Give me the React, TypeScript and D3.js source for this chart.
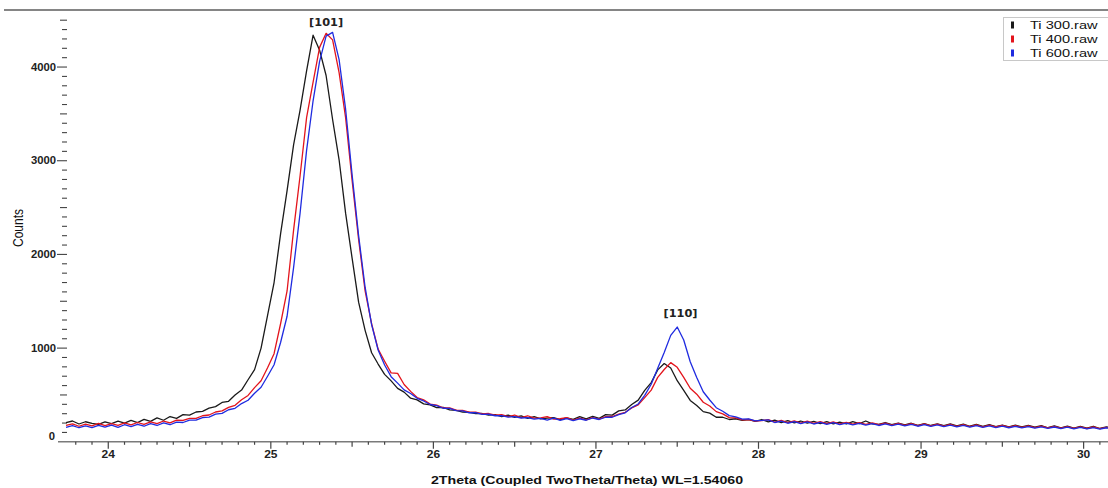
import React from 'react';
import * as d3 from 'd3';

// 2Theta scan: regular instrument step
const twoThetaStart = 23.74;
const twoThetaStep = 0.04;

const ti300 = [
  205, 222, 190, 214, 196, 185, 212, 193, 220, 200,
  228, 205, 240, 218, 255, 230, 270, 250, 290, 285,
  318, 325, 360, 375, 420, 432, 500, 552, 662, 770,
  1000, 1350, 1700, 2220, 2680, 3170, 3540, 3960, 4340, 4180,
  3910, 3440, 3010, 2440, 1960, 1490, 1190, 950, 830, 720,
  650, 570, 530, 465, 448, 405, 395, 365, 368, 340,
  335, 318, 315, 300, 302, 284, 290, 270, 285, 260,
  276, 250, 268, 245, 252, 258, 236, 255, 240, 268,
  245, 272, 250, 290, 285, 330, 340, 398, 445, 548,
  632, 768, 835, 788, 652, 548, 442, 388, 322, 306,
  262, 262, 238, 246, 228, 238, 218, 238, 212, 232,
  205, 226, 202, 222, 200, 218, 194, 215, 192, 210,
  190, 216, 195, 222, 192, 186, 206, 184, 200, 180,
  198, 176, 195, 174, 192, 172, 190, 170, 188, 166,
  185, 164, 182, 162, 179, 160, 177, 158, 174, 156,
  172, 150, 170, 148, 167, 147, 164, 145, 166, 142,
  160, 140,
];

const ti400 = [
  175, 192, 166, 188, 170, 196, 172, 194, 176, 202,
  180, 206, 186, 212, 194, 222, 202, 232, 228, 250,
  250, 278, 286, 318, 330, 368, 390, 448, 495, 578,
  652, 790, 940, 1260, 1610, 2260, 2840, 3460, 3840, 4210,
  4360, 4290, 3940, 3460, 2790, 2160, 1610, 1260, 990, 860,
  735, 730, 612, 538, 472, 448, 402, 392, 362, 362,
  338, 336, 316, 317, 298, 302, 284, 290, 268, 286,
  258, 278, 252, 256, 268, 242, 246, 258, 232, 252,
  234, 258, 242, 268, 270, 296, 315, 362, 395, 472,
  552, 688, 772, 845, 795, 688, 572, 508, 422, 382,
  322, 298, 258, 256, 234, 238, 222, 226, 236, 210,
  228, 204, 224, 200, 220, 196, 216, 194, 212, 190,
  208, 188, 205, 185, 202, 182, 200, 178, 196, 176,
  194, 172, 191, 170, 188, 168, 186, 165, 183, 163,
  180, 160, 178, 158, 175, 156, 172, 153, 170, 151,
  168, 148, 165, 146, 162, 144, 160, 142, 158, 140,
  155, 138,
];

const ti600 = [
  155, 172, 150, 170, 152, 176, 156, 178, 154, 182,
  162, 186, 166, 194, 174, 202, 182, 211, 206, 232,
  232, 257, 264, 295, 304, 342, 358, 408, 444, 518,
  582, 700, 822, 1060, 1340, 1860, 2440, 3110, 3640, 4060,
  4330, 4370, 4080, 3550, 2850, 2200, 1650, 1250, 980, 820,
  695, 626, 554, 516, 464, 436, 398, 386, 358, 356,
  332, 331, 310, 311, 292, 294, 278, 280, 264, 268,
  254, 258, 242, 250, 232, 252, 229, 248, 226, 246,
  230, 254, 238, 262, 262, 291, 309, 366, 404, 496,
  614, 786, 954, 1136, 1225, 1086, 854, 686, 534, 446,
  364, 326, 279, 266, 242, 244, 224, 228, 234, 206,
  220, 198, 216, 194, 212, 190, 208, 186, 204, 183,
  200, 180, 197, 177, 194, 174, 191, 172, 188, 169,
  186, 166, 183, 164, 180, 161, 178, 159, 175, 157,
  172, 154, 170, 152, 168, 150, 165, 148, 163, 146,
  160, 143, 158, 141, 156, 139, 154, 137, 152, 136,
  150, 134,
];

const seriesNames = ['Ti 300.raw', 'Ti 400.raw', 'Ti 600.raw'];
const seriesData = [ti300, ti400, ti600];
const seriesColors = ['#1a1a1a', '#e3141c', '#1f2be0'];

const xTickLabels = [24, 25, 26, 27, 28, 29, 30];
const yTickLabels = [0, 1000, 2000, 3000, 4000];

const peakLabels = ['[101]', '[110]'];
const peakTheta = [25.34, 27.52];
const peakCounts = [4443, 1337];

const W = 1108;
const H = 488;
const FONT = '"Liberation Sans", Arial, sans-serif';

function SText(props: any) {
  const { x, y, sx = 1, rot = 0, anchor = 'start', children, ...rest } = props;
  const t = `translate(${x},${y}) scale(${sx},1)` + (rot ? ` rotate(${rot})` : '');
  return (
    <text transform={t} textAnchor={anchor} {...rest}>
      {children}
    </text>
  );
}

export default function App() {
  const x = d3.scaleLinear().domain([23.74, 30.15]).range([66, 1108]);
  const y = d3.scaleLinear().domain([0, 4500]).range([441.8, 20.2]);

  const line = d3
    .line<number>()
    .x((_, i) => x(twoThetaStart + i * twoThetaStep))
    .y((d) => y(d));

  const xMinor = d3.range(238, 302).map((v) => v / 10);
  const yMinor = d3.range(1, 46).map((v) => v * 100);

  return (
    <svg
      width={W}
      height={H}
      style={{ position: 'absolute', left: 0, top: 0, background: '#fff' }}
      fontFamily={FONT}
    >
      <rect x={0} y={0} width={W} height={H} fill="#fff" />
      {/* top separator */}
      <line x1={4} x2={W} y1={10} y2={10} stroke="#858585" strokeWidth={2} />

      <defs>
        <clipPath id="plotClip">
          <rect x={64} y={12} width={W - 64} height={431} />
        </clipPath>
      </defs>

      {/* x axis */}
      <line x1={58} x2={W} y1={y(0)} y2={y(0)} stroke="#7a7a7a" strokeWidth={1.4} />
      {xMinor.map((v) => {
        const k = Math.round(v * 10);
        const len = k % 10 === 0 ? 7 : k % 5 === 0 ? 5 : 3;
        return (
          <line
            key={'xt' + k}
            x1={x(v)}
            x2={x(v)}
            y1={y(0)}
            y2={y(0) + len}
            stroke="#444"
            strokeWidth={1.2}
          />
        );
      })}
      {xTickLabels.map((v) => (
        <SText
          key={'xl' + v}
          x={x(v)}
          y={457.5}
          sx={1.2}
          anchor="middle"
          fontSize={10}
          fontWeight="bold"
          fill="#222"
        >
          {v}
        </SText>
      ))}

      {/* y ticks */}
      {yMinor.map((v) => {
        const major = v % 1000 === 0;
        const mid = v % 500 === 0;
        return (
          <line
            key={'yt' + v}
            x1={major ? 57 : mid ? 60 : 62}
            x2={67}
            y1={y(v)}
            y2={y(v)}
            stroke="#444"
            strokeWidth={1.1}
          />
        );
      })}
      {yTickLabels.map((v) => (
        <SText
          key={'yl' + v}
          x={v === 0 ? 55 : 56}
          y={(v === 0 ? 436.7 : y(v)) + 3.6}
          sx={1.13}
          anchor="end"
          fontSize={10}
          fontWeight="bold"
          fill="#222"
        >
          {v}
        </SText>
      ))}

      {/* axis titles */}
      <SText x={23} y={228} sx={1.25} rot={-90} anchor="middle" fontSize={12} fill="#111">
        Counts
      </SText>
      <SText x={587} y={484} sx={1.29} anchor="middle" fontSize={11} fontWeight="bold" fill="#111">
        2Theta (Coupled TwoTheta/Theta) WL=1.54060
      </SText>

      {/* data */}
      <g clipPath="url(#plotClip)">
        {seriesData.map((s, k) => (
          <path
            key={'s' + k}
            d={line(s) || ''}
            fill="none"
            stroke={seriesColors[k]}
            strokeWidth={1.3}
            strokeLinejoin="round"
          />
        ))}
      </g>

      {/* peak labels */}
      {peakLabels.map((p, k) => (
        <SText
          key={'pk' + k}
          x={x(peakTheta[k])}
          y={y(peakCounts[k])}
          sx={1.08}
          anchor="middle"
          fontSize={10.5}
          fontWeight="bold"
          fontFamily='"DejaVu Sans", Verdana, sans-serif'
          fill="#222"
        >
          {p}
        </SText>
      ))}

      {/* legend */}
      <rect x={1003.5} y={17.5} width={110} height={43} fill="#fff" stroke="#c8c8c8" strokeWidth={1} />
      {seriesNames.map((n, k) => (
        <g key={'lg' + k}>
          <rect x={1011} y={21.5 + k * 14} width={3} height={7} fill={seriesColors[k]} />
          <SText x={1030} y={28.5 + k * 14} sx={1.27} fontSize={11.5} fill="#111">
            {n}
          </SText>
        </g>
      ))}
    </svg>
  );
}
